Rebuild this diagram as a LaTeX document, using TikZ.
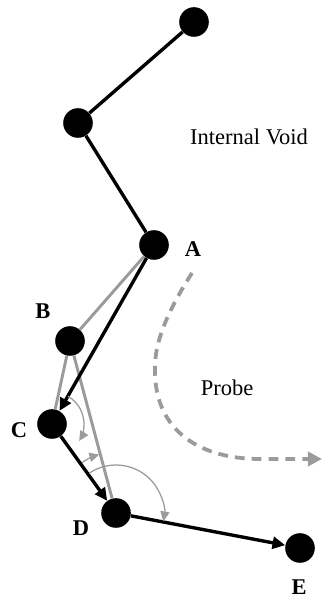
\documentclass[tikz,border=0pt]{standalone}
\usepackage{fontspec}
\setmainfont{Liberation Serif}
\usetikzlibrary{arrows.meta}

\definecolor{trailgray}{RGB}{155,155,155}

\tikzset{
  joint/.style={circle, fill=black, inner sep=0pt, minimum size=0.74cm},
  tag/.style={font=\fontsize{16}{19}\selectfont\bfseries},
  note/.style={font=\fontsize{16}{19}\selectfont},
  chain/.style={line width=2.4pt, black},
  move/.style={chain, -{Triangle[length=9pt,width=8.5pt]}},
  trial/.style={line width=2.1pt, trailgray},
  sweep/.style={line width=0.9pt, trailgray, -{Triangle[length=7pt,width=6.5pt]}},
  probe/.style={line width=2.7pt, trailgray, dash pattern=on 7pt off 5pt,
    -{Triangle[length=10pt,width=10pt]}},
}

\begin{document}
\begin{tikzpicture}
  \useasboundingbox (0,0) rectangle (8.075,14.975);

  \node[joint] (void-top) at (4.85,14.425) {};
  \node[joint] (void-mid) at (1.95,11.9) {};
  \node[joint] (point-a) at (3.85,8.85) {};
  \node[joint] (point-b) at (1.75,6.45) {};
  \node[joint] (point-c) at (1.3,4.375) {};
  \node[joint] (point-d) at (2.9,2.15) {};
  \node[joint] (point-e) at (7.5,1.275) {};

  \node[tag] (tag-a) at (4.825,8.75) {A};
  \node[tag] (tag-b) at (1.075,7.2) {B};
  \node[tag] (tag-c) at (0.475,4.225) {C};
  \node[tag] (tag-d) at (2.025,1.775) {D};
  \node[tag] (tag-e) at (7.475,0.3) {E};
  \node[note] (void-text) at (6.225,11.55) {Internal Void};
  \node[note] (probe-text) at (5.675,5.275) {Probe};

  % the tried moves
  \draw[trial] (point-a) -- (point-b) -- (point-c);
  \draw[trial] (point-b) -- (point-d);

  % the chain and the chosen moves
  \draw[chain] (void-top) -- (void-mid) -- (point-a);
  \draw[move] (point-a) -- (point-c);
  \draw[move] (point-c) -- (point-d);
  \draw[move] (point-d) -- (point-e);

  % angles
  \draw[sweep] ([shift={(60:0.8)}]point-c.center) arc[start angle=60, end angle=-32, radius=0.8];
  \draw[sweep] ([shift={(124:1.52)}]point-d.center) arc[start angle=124, end angle=106, radius=1.52];
  \draw[sweep] ([shift={(124:1.2)}]point-d.center) arc[start angle=124, end angle=-10, radius=1.2];

  % probe path
  \coordinate (probe-in) at (4.8,8.15);
  \coordinate (probe-out) at (8.05,3.5);
  \draw[probe] (probe-in) .. controls (4.0,6.9) and (3.85,6.2) .. (3.875,5.65)
    .. controls (3.9,4.2) and (5.0,3.5) .. (6.5,3.5) -- (probe-out);
\end{tikzpicture}
\end{document}
